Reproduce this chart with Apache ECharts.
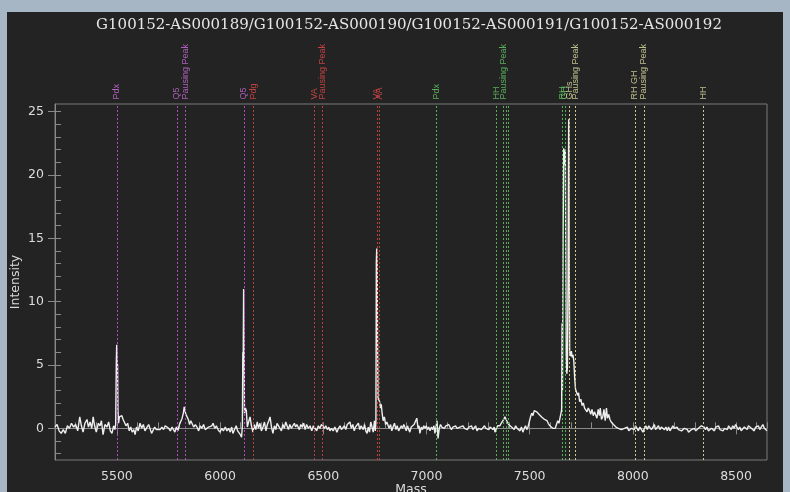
<!DOCTYPE html>
<html>
<head>
<meta charset="utf-8">
<script src="https://cdn.jsdelivr.net/npm/echarts@6/dist/echarts.min.js"></script>
<style>
  html, body { margin: 0; padding: 0; width: 790px; height: 492px; background: #a7b6c5; overflow: hidden; }
  #chart { position: absolute; left: 7px; top: 12px; width: 776px; height: 480px; background: #232323; }
</style>
</head>
<body>
<div id="chart"></div>
<script>
// axis ticks
const xTickValues = [5500, 6000, 6500, 7000, 7500, 8000, 8500];
const yTickValues = [0, 5, 10, 15, 20, 25];
const yMinorTickValues = [-2, -1, 0, 1, 2, 3, 4, 5, 6, 7, 8, 9, 10, 11, 12, 13, 14, 15, 16, 17, 18, 19, 20, 21, 22, 23, 24, 25];

// marker lines (mass, label, colour group)
const markerMasses = [5500, 5790, 5830, 6115, 6163, 6458, 6496, 6760, 6773, 7047, 7340, 7373, 7385, 7396, 7659, 7670, 7693, 7722, 8010, 8053, 8343];
const markerLabels = ["Pdx", "Q5", "Pausing Peak", "Q5", "Pdg", "VA", "Pausing Peak", "VA", "AA", "Pdx", "HH", "Pausing Peak", "", "", "RH", "GH", "GHs", "Pausing Peak", "RH GH", "Pausing Peak", "HH"];
const markerGroups = ["p", "p", "p", "p", "r", "r", "r", "r", "r", "g", "g", "g", "g", "g", "g", "g", "y", "y", "y", "y", "y"];

// spectrum (mass, intensity)
const spectrumA = [
  [5200,0.1],[5210,0.3],[5220,-0.2],[5230,-0.4],[5240,-0.1],[5250,-0.4],[5260,0.2],[5270,0.0],[5280,0.4],[5290,0.1],
  [5300,0.3],[5310,-0.2],[5320,0.9],[5328,0.2],[5336,-0.3],[5345,0.4],[5355,0.7],[5362,0.1],[5370,0.5],[5378,0.0],
  [5385,0.9],[5392,0.2],[5400,-0.3],[5410,0.4],[5418,0.2],[5425,0.6],[5433,-0.5],[5442,0.3],[5452,0.1],[5460,0.5],
  [5468,-0.2],[5476,-0.4],[5484,0.2],[5490,-0.1],[5494,0.3],[5497,5.1],[5499,6.6],[5501,5.2],[5503,5.0],[5505,1.5],
  [5508,0.4],[5512,0.9],[5518,0.8],[5524,1.0],[5530,0.7],[5537,0.6],[5544,0.2],[5552,0.4],[5560,-0.2],[5567,0.1],
  [5574,-0.3],[5582,-0.1],[5588,-0.5],[5595,0.1],[5603,-0.2],[5612,0.4],[5620,0.0],[5628,0.3],[5636,-0.2],[5646,0.1],
  [5654,0.3],[5662,-0.1],[5668,-0.4],[5675,-0.3],[5683,0.1],[5691,-0.1],[5700,0.0],[5709,-0.1],[5718,0.1],[5726,-0.1],
  [5734,0.2],[5743,0.3],[5751,0.0],[5759,-0.2],[5767,0.1],[5774,-0.1],[5781,-0.3],[5788,0.1],[5795,-0.2],[5803,0.3],
  [5810,0.4],[5816,0.8],[5822,1.2],[5826,1.7],[5830,1.6],[5834,1.1],[5840,0.9],[5846,0.7],[5852,0.3],[5858,0.6],
  [5864,0.5],[5872,0.1],[5880,0.3],[5888,0.1],[5896,-0.2],[5904,0.2],[5912,0.0],[5920,0.3],[5928,-0.1],[5936,-0.2],
  [5944,0.1],[5952,0.0],[5960,0.2],[5966,0.4],[5974,0.0],[5982,0.2],[5990,-0.1],[5999,-0.3],[6008,0.0],[6016,-0.2],
  [6025,0.1],[6033,-0.2],[6041,0.0],[6049,-0.3],[6056,0.1],[6062,-0.4],[6070,-0.1],[6078,0.2],[6085,-0.2],[6092,-0.3],
  [6098,-0.5],[6104,-0.7]
];
const spectrumB = [
  [6108,0.2],[6110,6.0],[6112,5.8],[6114,11.0],[6116,6.3],[6118,1.2],[6122,1.6],[6127,1.4],[6132,0.1],[6138,0.5],
  [6145,0.9],[6152,0.2],[6159,-0.3],[6166,0.3],[6173,-0.1],[6180,0.5],[6186,0.0],[6193,0.4],[6200,-0.2],[6208,0.1],
  [6215,0.5],[6222,-0.2],[6229,0.3],[6236,0.6],[6242,0.9],[6249,0.1],[6256,-0.4],[6263,0.2],[6270,-0.1],[6276,0.4],
  [6283,0.2],[6290,0.2],[6297,-0.2],[6304,0.3],[6311,0.0],[6318,0.5],[6324,0.5],[6331,-0.1],[6338,0.3],[6345,0.0],
  [6353,0.0],[6360,0.4],[6366,0.1],[6372,0.3],[6377,0.4],[6384,-0.1],[6391,0.3],[6398,0.1],[6405,0.4],[6412,-0.1],
  [6419,0.3],[6427,0.0],[6436,0.2],[6444,-0.2],[6452,0.2],[6460,0.1],[6468,-0.2],[6476,0.2],[6484,0.0],[6491,0.3],
  [6498,0.2],[6505,0.0],[6512,0.2],[6520,-0.1],[6527,0.1],[6532,-0.2],[6540,0.0],[6548,-0.2],[6556,0.1],[6566,-0.3],
  [6574,0.0],[6581,0.2],[6588,-0.1],[6595,0.0],[6602,0.2],[6609,-0.1],[6616,0.3],[6622,0.2],[6629,0.5],[6636,0.0],
  [6643,0.3],[6650,-0.2],[6656,0.1],[6663,0.0],[6670,0.4],[6677,-0.1],[6683,0.2],[6687,0.2],[6694,-0.1],[6700,0.3],
  [6706,-0.2],[6712,-0.4],[6718,0.1],[6724,-0.3],[6730,0.5],[6736,0.4],[6742,-0.3],[6748,0.6],[6752,-0.2]
];
const spectrumC = [
  [6755,0.5],[6757,13.1],[6759,14.2],[6761,12.9],[6763,6.5],[6765,2.4],[6769,2.3],[6773,2.1],[6777,1.6],[6781,1.9],
  [6785,1.2],[6790,0.6],[6796,0.9],[6802,0.3],[6808,0.5],[6813,0.5],[6819,0.0],[6826,0.3],[6832,-0.2],[6838,0.1],
  [6845,0.4],[6852,-0.1],[6858,0.2],[6865,-0.2],[6871,-0.3],[6878,0.2],[6884,0.0],[6890,0.3],[6895,0.1],[6902,-0.2],
  [6908,0.2],[6914,-0.1],[6919,-0.3],[6926,0.1],[6933,0.0],[6940,0.3],[6946,0.2],[6953,0.8],[6959,0.0],[6964,0.2],
  [6968,-0.4],[6975,0.1],[6981,-0.1],[6987,0.2],[6992,0.0],[6999,0.2],[7005,-0.1],[7011,0.1],[7017,-0.2],[7024,0.1],
  [7030,-0.1],[7036,0.2],[7041,-0.4],[7046,0.1],[7051,0.6],[7056,-0.8],[7062,0.0],[7068,0.3],[7074,0.1],[7080,0.2],
  [7087,0.0],[7094,0.2],[7101,0.1],[7108,0.3],[7114,0.1],[7121,-0.1],[7128,0.1],[7135,0.0],[7141,0.2],[7148,0.0],
  [7155,-0.1],[7162,0.1],[7170,0.0],[7177,0.2],[7184,0.0],[7191,0.1],[7198,-0.1],[7205,0.1],[7211,0.0],[7218,0.2],
  [7225,-0.1],[7232,0.0],[7238,0.2],[7245,-0.2],[7252,0.0],[7259,0.1],[7266,-0.1],[7274,0.0],[7281,0.2],[7288,0.0],
  [7295,0.1],[7302,-0.1],[7308,0.1],[7315,0.2],[7322,-0.1],[7328,0.1],[7332,-0.3],[7339,0.0],[7345,0.2],[7350,0.1],
  [7356,0.2],[7362,0.4],[7368,0.5],[7374,0.7],[7380,0.9],[7386,0.7],[7392,0.6],[7398,0.3],[7405,0.4],[7412,0.1],
  [7418,0.2],[7425,-0.1],[7432,0.2],[7439,0.0],[7446,0.1],[7453,-0.2],[7460,0.1],[7467,-0.3],[7474,0.0],[7480,0.2],
  [7486,-0.1],[7492,0.1],[7498,0.5],[7504,0.9],[7510,1.2],[7516,1.0],[7522,1.4],[7528,1.5],[7534,1.3],[7540,1.4],
  [7546,1.1],[7552,1.2],[7558,0.9],[7565,1.0],[7572,0.7],[7578,0.8],[7584,0.6],[7590,0.4],[7598,0.2],[7605,0.3],
  [7612,0.0],[7618,0.1],[7624,0.0],[7630,0.3],[7636,0.6],[7642,0.4],[7648,0.9],[7652,1.2]
];
const spectrumD = [
  [7655,1.5],[7657,8.3],[7659,3.0],[7662,15.0],[7665,22.1],[7669,20.8],[7673,22.0],[7677,6.0],[7680,4.3],[7683,4.8],
  [7686,12.0],[7689,24.4],[7692,12.0],[7694,6.0],[7698,5.7],[7702,6.1],[7706,5.6],[7710,5.8],[7714,5.3],[7718,4.0],
  [7722,3.1],[7727,3.0],[7732,2.6],[7737,2.8],[7742,2.1],[7748,2.3],[7754,1.8],[7760,2.0],[7766,1.6],[7772,1.7],
  [7778,1.3],[7784,1.6],[7790,1.4],[7796,1.1],[7802,1.5],[7808,1.0],[7814,1.3],[7820,1.2],[7826,0.8],[7832,1.5],
  [7838,1.0],[7842,1.6],[7848,0.7],[7854,0.9],[7860,1.5],[7866,0.6],[7872,1.6],[7877,0.8],[7883,1.1],[7889,0.7],
  [7895,0.5],[7900,0.4],[7906,0.3],[7912,0.2],[7918,0.1],[7924,0.2],[7930,0.0],[7937,0.1],[7944,-0.1],[7952,-0.2],
  [7959,0.0],[7966,-0.1],[7973,0.1],[7980,-0.2],[7986,-0.3],[7993,0.0],[8000,0.1],[8007,-0.1],[8013,0.2],[8020,0.1],
  [8027,-0.2],[8034,0.1],[8041,0.0],[8049,-0.3],[8056,0.0],[8063,0.2],[8070,-0.1],[8077,0.2],[8083,0.2],[8090,-0.1],
  [8097,0.1],[8104,0.3],[8110,-0.1],[8117,0.0],[8124,0.2],[8131,-0.1],[8138,0.1],[8146,0.2],[8153,-0.1],[8160,0.1],
  [8167,-0.2],[8173,0.1],[8180,-0.2],[8187,0.0],[8194,0.2],[8200,0.0],[8207,-0.1],[8214,0.1],[8221,-0.1],[8228,0.0],
  [8236,-0.2],[8243,-0.2],[8250,0.0],[8257,-0.1],[8264,-0.1],[8270,-0.3],[8277,-0.3],[8284,-0.1],[8291,-0.2],[8298,0.0],
  [8305,-0.2],[8311,-0.2],[8318,0.0],[8325,0.1],[8332,0.2],[8340,0.3],[8346,0.1],[8352,-0.1],[8359,0.1],[8366,-0.2],
  [8374,-0.3],[8381,0.0],[8388,0.1],[8395,-0.2],[8402,0.1],[8408,0.0],[8415,0.2],[8422,-0.1],[8430,0.0],[8437,-0.2],
  [8444,0.0],[8451,0.1],[8458,-0.1],[8464,0.2],[8470,0.1],[8477,-0.1],[8484,0.2],[8491,0.0],[8498,0.3],[8504,0.2],
  [8511,-0.1],[8518,0.1],[8525,-0.2],[8533,-0.2],[8540,0.1],[8547,0.2],[8554,-0.1],[8560,0.2],[8567,0.3],[8574,0.0],
  [8581,0.1],[8588,-0.2],[8595,0.1],[8601,0.0],[8608,0.2],[8615,-0.1],[8622,0.1],[8630,0.3],[8637,0.0],[8643,0.1],
  [8650,-0.2]
];

const X_MIN = 5200, X_MAX = 8650, Y_MIN = -2.5, Y_MAX = 25.6;
const lineColors = { p: "#b04cbc", r: "#b84040", g: "#5aae5a", y: "#cbcb92" };
const labelColors = { p: "#d070e0", r: "#e84a4a", g: "#66d066", y: "#e2e2a8" };
const axisColor = "#8a8a8a";
const textColor = "#dcdcdc";

const spectrum = [].concat(spectrumA, spectrumB, spectrumC, spectrumD);

const chart = echarts.init(document.getElementById("chart"), null, { renderer: "canvas" });

// one empty series per colour group carries its dotted marker lines
const markerSeries = Object.keys(lineColors).map(g => ({
  type: "line",
  data: [],
  silent: true,
  z: 1,
  markLine: {
    silent: true,
    animation: false,
    symbol: ["none", "none"],
    label: { show: false },
    lineStyle: { color: lineColors[g], type: [2, 2], width: 1, opacity: 1 },
    data: markerMasses.filter((m, i) => markerGroups[i] === g).map(m => ({ xAxis: m }))
  }
}));

const labelPoints = markerMasses
  .map((m, i) => ({ m, text: markerLabels[i], g: markerGroups[i] }))
  .filter(d => d.text)
  .map(d => ({
    value: [d.m, Y_MAX],
    label: { formatter: d.text, color: labelColors[d.g] }
  }));

const plainNumber = v => String(v);

chart.setOption({
  backgroundColor: "#232323",
  animation: false,
  title: {
    text: "G100152-AS000189/G100152-AS000190/G100152-AS000191/G100152-AS000192",
    left: 397,
    top: 1,
    textAlign: "center",
    textStyle: { color: "#e6e6e6", fontFamily: "DejaVu Serif", fontSize: 15, fontWeight: "normal" }
  },
  grid: {
    left: 48, right: 16, top: 92, bottom: 32,
    outerBoundsMode: "none", containLabel: false,
    show: true, borderColor: "#7a7a7a", borderWidth: 1, backgroundColor: "transparent"
  },
  xAxis: [
    {
      type: "value", min: X_MIN, max: X_MAX, position: "bottom",
      name: "Mass", nameLocation: "middle", nameGap: 23, nameMoveOverlap: false,
      nameTextStyle: { color: textColor, fontFamily: "DejaVu Sans", fontSize: 12.5 },
      axisLine: { show: true, lineStyle: { color: axisColor } },
      axisTick: { show: true, customValues: xTickValues, length: 6, lineStyle: { color: axisColor } },
      axisLabel: { customValues: xTickValues, formatter: plainNumber, color: textColor, fontFamily: "DejaVu Sans", fontSize: 12.5, margin: 10 },
      splitLine: { show: false }
    },
    {
      type: "value", min: X_MIN, max: X_MAX, interval: 100, position: "bottom",
      axisLine: { show: false },
      axisTick: { show: true, inside: true, length: 6, lineStyle: { color: axisColor } },
      axisLabel: { show: false },
      splitLine: { show: false }
    }
  ],
  yAxis: [
    {
      type: "value", min: Y_MIN, max: Y_MAX, position: "left",
      name: "Intensity", nameLocation: "middle", nameGap: 33, nameMoveOverlap: false,
      nameTextStyle: { color: textColor, fontFamily: "DejaVu Sans", fontSize: 12.5 },
      axisLine: { show: true, lineStyle: { color: axisColor } },
      axisTick: { show: true, customValues: yTickValues, length: 7, lineStyle: { color: axisColor } },
      axisLabel: { customValues: yTickValues, formatter: plainNumber, color: textColor, fontFamily: "DejaVu Sans", fontSize: 12.5, margin: 11 },
      splitLine: { show: false }
    },
    {
      type: "value", min: Y_MIN, max: Y_MAX, position: "left",
      axisLine: { show: false },
      axisTick: { show: true, inside: true, customValues: yMinorTickValues, length: 6, lineStyle: { color: axisColor } },
      axisLabel: { show: false },
      splitLine: { show: false }
    }
  ],
  series: markerSeries.concat([
    {
      type: "line",
      data: spectrum,
      showSymbol: false,
      symbol: "none",
      smooth: false,
      lineStyle: { color: "#eeeeee", width: 1.4 },
      silent: true,
      z: 3
    },
    {
      type: "scatter",
      data: labelPoints,
      clip: false,
      symbolSize: 1,
      itemStyle: { color: "rgba(0,0,0,0)" },
      silent: true,
      label: {
        show: true, position: "top", distance: 4, rotate: 90,
        align: "left", verticalAlign: "middle",
        fontFamily: "Liberation Sans", fontSize: 9
      },
      z: 4
    }
  ])
});

window.addEventListener("resize", () => chart.resize());
</script>
</body>
</html>
